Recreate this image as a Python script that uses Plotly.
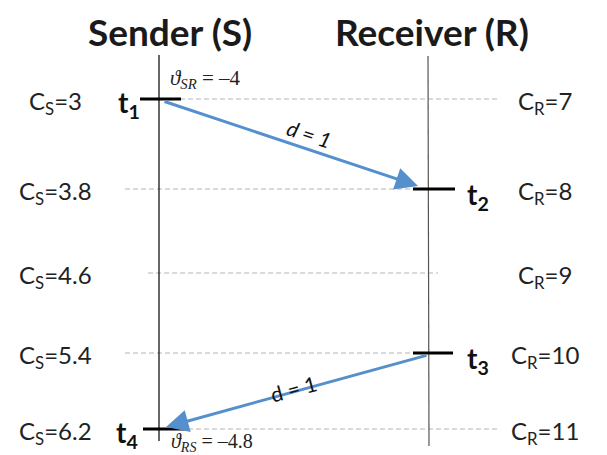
import plotly.graph_objects as go

# ---- data ----
sender_clock = [3, 3.8, 4.6, 5.4, 6.2]
receiver_clock = [7, 8, 9, 10, 11]
delay_labels = ["d = 1", "d = 1"]
offset_sr = -4
offset_rs = -4.8
event_labels = ["t<sub>1</sub>", "t<sub>2</sub>", "t<sub>3</sub>", "t<sub>4</sub>"]
titles = ["Sender (S)", "Receiver (R)"]

# ---- layout constants (pixel frame) ----
W, H = 607, 455
XS, XR = 159, 428
row_y = [99, 189, 273, 353, 429]
dash_spans = [(180, 497), (125, 414), (148, 438), (125, 414), (180, 500)]
FONT = "Lato"
BLUE = "#5590cc"

fig = go.Figure()
fig.add_trace(go.Scatter(x=[0, W], y=[0, H], mode="markers", marker=dict(opacity=0), hoverinfo="skip", showlegend=False))

shapes = []
for (x0, x1), y in zip(dash_spans, row_y):
    shapes.append(dict(type="line", x0=x0, x1=x1, y0=y, y1=y, line=dict(color="#b4b4b4", width=1, dash="5px,3px"), layer="below"))
shapes.append(dict(type="line", x0=XS, x1=XS, y0=55, y1=441, line=dict(color="black", width=1.2)))
shapes.append(dict(type="line", x0=XR, x1=XR + 1, y0=56, y1=446, line=dict(color="#555555", width=1.2)))
bars = [(140, 181, row_y[0]), (413, 455, row_y[1]), (413, 453, row_y[3]), (143, 185, row_y[4])]
for x0, x1, y in bars:
    shapes.append(dict(type="line", x0=x0, x1=x1, y0=y, y1=y, line=dict(color="black", width=3)))

ann = []
ann.append(dict(x=170, y=31, text="<b>%s</b>" % titles[0], font=dict(size=37, family=FONT, color="#1a1a1a")))
ann.append(dict(x=432, y=31, text="<b>%s</b>" % titles[1], font=dict(size=37, family=FONT, color="#1a1a1a")))
for v, y in zip(sender_clock, row_y):
    ann.append(dict(x=55, y=y + 3, text="C<sub>S</sub>=%g" % v, font=dict(size=24, family=FONT, color="#222")))
for v, y in zip(receiver_clock, row_y):
    ann.append(dict(x=545, y=y + 3, text="C<sub>R</sub>=%g" % v, font=dict(size=24, family=FONT, color="#222")))
ev_pos = [(129, row_y[0] + 5), (478, row_y[1] + 7), (478, row_y[3] + 7), (127, row_y[4] + 5)]
for (x, y), t in zip(ev_pos, event_labels):
    ann.append(dict(x=x, y=y, text="<b>%s</b>" % t, font=dict(size=28, family=FONT, color="#111")))
ann.append(dict(x=418, y=186, ax=163, ay=101, axref="x", ayref="y", text="", showarrow=True,
                arrowhead=2, arrowsize=1.5, arrowwidth=3, arrowcolor=BLUE))
ann.append(dict(x=166, y=427, ax=428, ay=355, axref="x", ayref="y", text="", showarrow=True,
                arrowhead=2, arrowsize=1.5, arrowwidth=3, arrowcolor=BLUE))
ann.append(dict(x=309, y=133, text="<i>%s</i>" % delay_labels[0], textangle=18, font=dict(size=21, family=FONT, color="#111")))
ann.append(dict(x=293, y=388, text="%s" % delay_labels[1], textangle=-15, font=dict(size=21, family=FONT, color="#111")))
ann.append(dict(x=205, y=79, text="<i>ϑ<sub>SR</sub></i> = \u2013%g" % abs(offset_sr), font=dict(size=21, family="Liberation Serif", color="#222")))
ann.append(dict(x=212, y=442, text="<i>ϑ<sub>RS</sub></i> = \u2013%g" % abs(offset_rs), font=dict(size=20, family="Liberation Serif", color="#222")))

for a in ann:
    a.setdefault("xref", "x")
    a.setdefault("yref", "y")
    a.setdefault("showarrow", False)

fig.update_layout(
    width=W, height=H, margin=dict(l=0, r=0, t=0, b=0),
    paper_bgcolor="white", plot_bgcolor="white",
    xaxis=dict(range=[0, W], visible=False, fixedrange=True),
    yaxis=dict(range=[H, 0], visible=False, fixedrange=True),
    shapes=shapes, annotations=ann, showlegend=False,
)
fig.write_html("out.html", config={"displayModeBar": False},
               post_script="document.body.style.margin='0';document.body.style.padding='0';document.body.style.overflow='hidden';")
